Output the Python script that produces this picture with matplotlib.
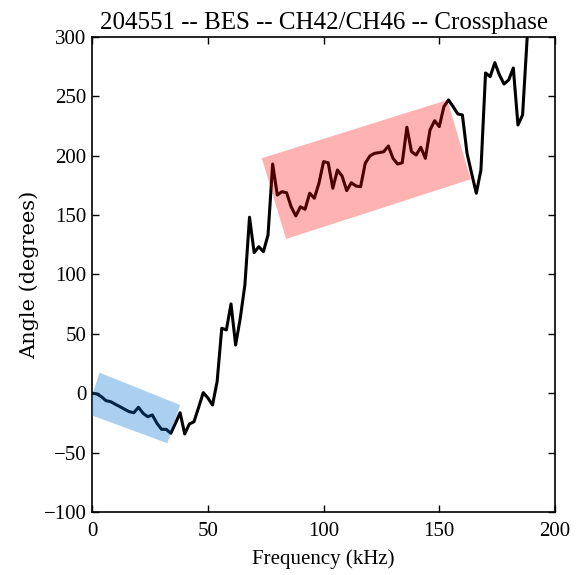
import matplotlib
matplotlib.use("Agg")
import matplotlib.pyplot as plt
from matplotlib.patches import Polygon

# Crossphase spectrum between BES channels 42 and 46
freq_khz = [0, 2, 4, 6, 8, 10, 12, 14, 16, 18, 20, 22, 24, 26, 28, 30, 32, 34, 36, 38,
            40, 42, 44, 46, 48, 50, 52, 54, 56, 58, 60, 62, 64, 66, 68, 70, 72, 74, 76, 78,
            80, 82, 84, 86, 88, 90, 92, 94, 96, 98, 100, 102, 104, 106, 108, 110, 112, 114,
            116, 118, 120, 122, 124, 126, 128, 130, 132, 134, 136, 138, 140, 142, 144, 146,
            148, 150, 152, 154, 156, 158, 160, 162, 164, 166, 168, 170, 172, 174, 176, 178,
            180, 182, 184, 186, 188, 190]
phase_deg = [0, -0.6, -2.9, -6.3, -7.1, -9.3, -11.3, -13.5, -15.5, -16.4, -11.8, -16.9,
             -19.8, -18.3, -25.3, -30.4, -30.4, -33.7, -25.3, -16.4,
             -34.3, -25.9, -24.0, -12.0, 0.5, -4.0, -9.9, 9.7, 54.7, 53.3, 75.2, 40.6,
             63.1, 91.2, 148.2, 118.4, 123.4, 119.2, 133.3, 193.0,
             166.9, 169.7, 168.9, 157.0, 149.3, 157.0, 154.9, 168.4, 164.2, 176.8,
             195.0, 194.1, 172.6, 188.0, 182.9, 170.6, 177.3, 174.5, 173.9, 193.6,
             199.8, 202.0, 202.6, 203.4, 208.2, 197.8, 193.0, 194.1, 224.0, 203.4,
             200.6, 207.1, 197.8, 221.7, 229.5, 224.5, 241.3, 247.0, 241.3, 235.2,
             234.3, 202.0, 185.0, 168.4, 188.0, 269.7, 266.6, 278.4, 268.0, 260.4,
             263.8, 273.9, 225.9, 234.3, 300.0, 335.0]

# Highlighted bands (corner points in kHz, degrees)
low_band_f = [3.2, -2.6, 32.5, 38.0]
low_band_a = [17.3, -16.9, -42.1, -9.9]
high_band_f = [73.3, 83.8, 163.6, 153.5]
high_band_a = [197.9, 129.9, 180.2, 246.9]

serif = ["Liberation Serif", "DejaVu Serif"]

fig = plt.figure(figsize=(5.76, 5.75), dpi=100)
ax = fig.add_axes([0.16, 0.1096, 0.8035, 0.8261])

ax.plot(freq_khz, phase_deg, color="black", lw=2.2, zorder=2)

ax.add_patch(Polygon(list(zip(low_band_f, low_band_a)), closed=True,
                     facecolor=(0.0, 0.43, 0.82), alpha=0.33, edgecolor="none", zorder=3))
ax.add_patch(Polygon(list(zip(high_band_f, high_band_a)), closed=True,
                     facecolor=(1.0, 0.0, 0.0), alpha=0.3, edgecolor="none", zorder=3))

ax.set_xlim(0, 200)
ax.set_ylim(-100, 300)
ax.set_xticks([0, 50, 100, 150, 200])
ax.set_yticks([-100, -50, 0, 50, 100, 150, 200, 250, 300])
ax.tick_params(direction="in", top=True, right=True, length=5, width=1,
               labelsize=15)
ax.tick_params(axis="x", pad=7)
ax.tick_params(axis="y", pad=4)
for lbl in ax.get_xticklabels() + ax.get_yticklabels():
    lbl.set_family(serif)
for s in ax.spines.values():
    s.set_linewidth(1.2)

ax.set_title("204551 -- BES -- CH42/CH46 -- Crossphase", family=serif, fontsize=18, pad=6)
ax.set_xlabel("Frequency (kHz)", family=serif, fontsize=15, labelpad=6)
ax.set_ylabel("Angle (degrees)", family=["DejaVu Serif"], fontsize=15, labelpad=3)

fig.savefig("out.png", dpi=100)
